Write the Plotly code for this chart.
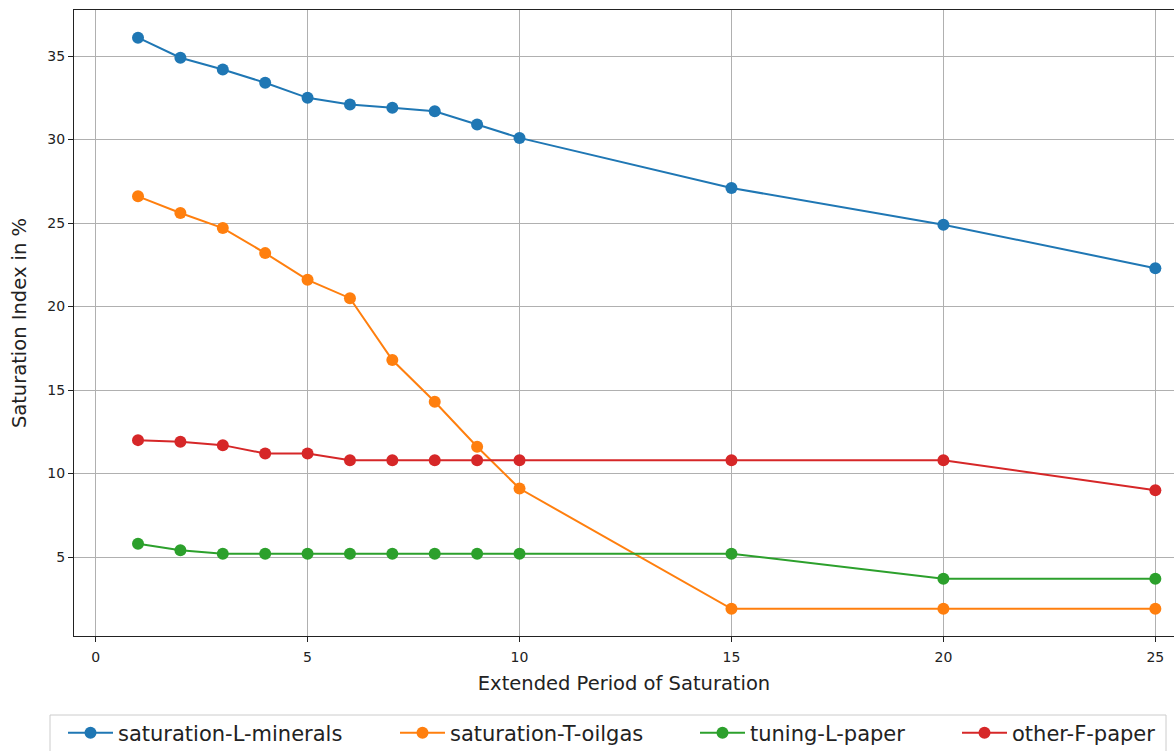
import plotly.graph_objects as go

periods = [1, 2, 3, 4, 5, 6, 7, 8, 9, 10, 15, 20, 25]

series_names = [
    "saturation-L-minerals",
    "saturation-T-oilgas",
    "tuning-L-paper",
    "other-F-paper",
]

minerals = [36.1, 34.9, 34.2, 33.4, 32.5, 32.1, 31.9, 31.7, 30.9, 30.1, 27.1, 24.9, 22.3]
oilgas = [26.6, 25.6, 24.7, 23.2, 21.6, 20.5, 16.8, 14.3, 11.6, 9.1, 1.9, 1.9, 1.9]
tuning_paper = [5.8, 5.4, 5.2, 5.2, 5.2, 5.2, 5.2, 5.2, 5.2, 5.2, 5.2, 3.7, 3.7]
other_paper = [12.0, 11.9, 11.7, 11.2, 11.2, 10.8, 10.8, 10.8, 10.8, 10.8, 10.8, 10.8, 9.0]

colors = ["#1f77b4", "#ff7f0e", "#2ca02c", "#d62728"]

x_ticks = [0, 5, 10, 15, 20, 25]
y_ticks = [5, 10, 15, 20, 25, 30, 35]

W, H = 1174, 751
L, R, T, B = 74, 0, 10, 115
plot_w, plot_h = W - L - R, H - T - B

# legend row: one legend per entry so each can sit at its own x (pixels)
legend_text_x = [121, 453, 753, 1015]
legend_row_y = 733
item_w = 45

fig = go.Figure()
legend_ids = ["legend", "legend2", "legend3", "legend4"]
for name, values, color, lid in zip(series_names, [minerals, oilgas, tuning_paper, other_paper], colors, legend_ids):
    fig.add_trace(go.Scatter(
        x=periods, y=values, name=name, mode="lines+markers",
        line=dict(color=color, width=2),
        marker=dict(color=color, size=12),
        legend=lid,
    ))

axis_common = dict(
    showgrid=True, gridcolor="#b0b0b0", gridwidth=1,
    showline=True, linecolor="#222222", linewidth=1,
    ticks="outside", ticklen=5, tickcolor="#222222", tickwidth=1,
    zeroline=False, automargin=False,
    tickfont=dict(family="DejaVu Sans", size=14, color="#222222"),
)

legend_layouts = {}
for lid, tx in zip(legend_ids, legend_text_x):
    legend_layouts[lid] = dict(
        orientation="h", xref="container", yref="container",
        x=(tx - item_w - 13) / W, xanchor="left",
        y=(H - legend_row_y) / H, yanchor="middle",
        font=dict(family="DejaVu Sans", size=21, color="#222222"),
        bgcolor="rgba(0,0,0,0)", borderwidth=0,
        itemwidth=item_w,
    )


def px_to_paper_x(px):
    return (px - L) / plot_w


def px_to_paper_y(py):
    return (H - B - py) / plot_h


fig.update_layout(
    width=W, height=H,
    margin=dict(l=L, r=R, t=T, b=B),
    paper_bgcolor="white", plot_bgcolor="white",
    font=dict(family="DejaVu Sans", color="#222222"),
    xaxis=dict(
        **axis_common, range=[-0.51, 25.44], tickvals=x_ticks, mirror=True,
        ticklabelstandoff=3,
        title=dict(text="Extended Period of Saturation", font=dict(size=19.5), standoff=12),
    ),
    yaxis=dict(
        **axis_common, range=[0.27, 37.76], tickvals=y_ticks,
        title=dict(text="Saturation Index in %", font=dict(size=19.5), standoff=15),
    ),
    showlegend=True,
    **legend_layouts,
    shapes=[dict(
        type="rect", xref="paper", yref="paper", layer="below",
        x0=px_to_paper_x(50), x1=px_to_paper_x(1166),
        y0=px_to_paper_y(715), y1=px_to_paper_y(765),
        line=dict(color="#cccccc", width=1), fillcolor="white",
    )],
)

fig.write_html("out.html")
